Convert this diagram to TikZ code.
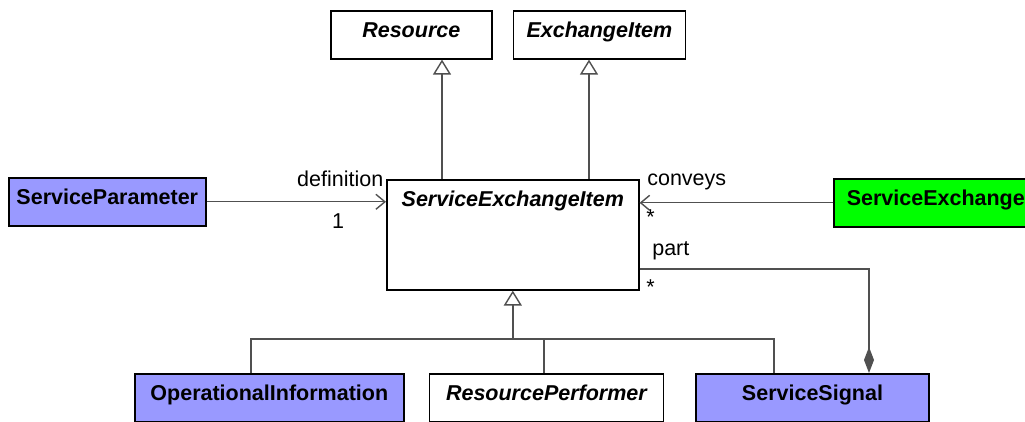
\documentclass[tikz,border=0pt]{standalone}
\usepackage{fontspec}
\setmainfont{Liberation Sans}
\usepackage{tikz}
\usetikzlibrary{arrows.meta, positioning, calc}
\usepackage{xcolor}
\definecolor{clsblue}{RGB}{153,153,255}
\definecolor{clsgreen}{RGB}{0,255,0}
\definecolor{linegray}{RGB}{80,80,80}
\newcommand{\umlsize}{\fontsize{21.5pt}{26pt}\selectfont}

\begin{document}
\begin{tikzpicture}[
    x=1pt, y=-1pt,
    cls/.style={draw, line width=1.6pt, inner sep=0pt, text height=27pt, text depth=#1,
                anchor=north west, font=\umlsize\bfseries},
    cls/.default=21pt,
    abs/.style={cls=#1, font=\umlsize\bfseries\itshape},
    abs/.default=21pt,
    lbl/.style={inner sep=0pt, font=\umlsize},
    link/.style={draw=linegray, line width=1.4pt},
    arr/.style={link, -{Straight Barb[length=9pt, width=15pt]}},
    gen/.style={link, -{Triangle[open, length=15pt, width=18pt]}},
    comp/.style={link, -{Diamond[length=26pt, width=10pt, fill=linegray]}},
]
\useasboundingbox (0,0) rectangle (1025,422);

\node[abs, minimum width=161pt] (res) at (330,10) {Resource};
\node[abs, minimum width=172pt, right=20pt of res] (exi) {ExchangeItem};
\node[abs=83pt, minimum width=252pt] (sei) at (386,179) {ServiceExchangeItem};
\node[cls, fill=clsblue, minimum width=197pt] (sp) at (8,177) {ServiceParameter};
\node[cls, fill=clsgreen, minimum width=204pt] (se) at (833,178) {ServiceExchange};
\node[cls, fill=clsblue, minimum width=269pt] (oi) at (134,373) {OperationalInformation};
\node[abs, minimum width=234pt, right=24pt of oi] (rp) {ResourcePerformer};
\node[cls, fill=clsblue, minimum width=233pt, right=31pt of rp] (sig) {ServiceSignal};

\draw[gen] (sei.north -| 442,0) -- (res.south -| 442,0);
\draw[gen] (sei.north -| 589,0) -- (exi.south -| 589,0);

\draw[arr] (sp) -- (sp -| sei.west)
    node[lbl, pos=1, anchor=base east, xshift=-2pt, yshift=15pt] {definition}
    node[lbl, pos=1, anchor=base, xshift=-48pt, yshift=-27pt] {1};
\draw[arr] (se) -- (se -| sei.east)
    node[lbl, pos=1, anchor=base west, xshift=7pt, yshift=17pt] {conveys}
    node[lbl, pos=1, anchor=base west, xshift=6pt, yshift=-22pt] {*};
\draw[comp] (sei.east |- 0,269) -| (sig.north -| 869,0)
    node[lbl, pos=0, anchor=base west, xshift=12pt, yshift=14pt] {part}
    node[lbl, pos=0, anchor=base west, xshift=6pt, yshift=-25pt] {*};

\coordinate (tree) at (sei.south |- 0,339);
\draw[gen] (tree) -- (sei.south);
\draw[link] (oi.north -| 251,0) |- (tree) -| (sig.north -| 774,0);
\draw[link] (rp.north -| 544,0) |- (tree);
\end{tikzpicture}
\end{document}
